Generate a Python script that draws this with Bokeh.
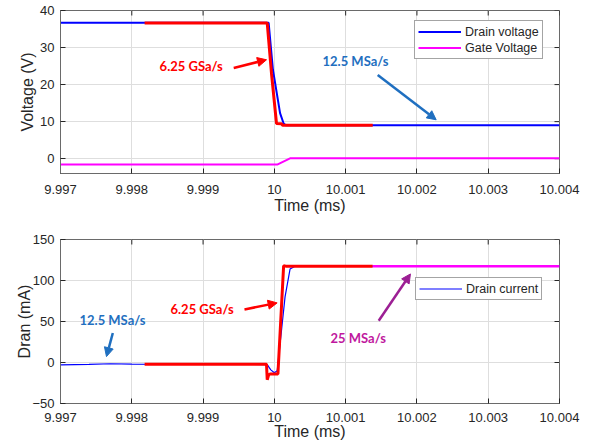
from bokeh.plotting import figure
from bokeh.layouts import column
from bokeh.models import (Range1d, FixedTicker, CustomJSTickFormatter,
                          Legend, LegendItem, Label, Arrow, NormalHead)
from bokeh.embed import file_html
from bokeh.resources import INLINE

# ---------------- data ----------------
x_ticks = [9.997, 9.998, 9.999, 10.0, 10.001, 10.002, 10.003, 10.004]
v_ticks = [0, 10, 20, 30, 40]
i_ticks = [-50, 0, 50, 100, 150]

# Top panel: drain voltage, 12.5 MSa/s record (blue)
vd_slow_t = [9.997, 9.99992, 9.99998, 10.00008, 10.00013, 10.00016, 10.004]
vd_slow_v = [36.7, 36.7, 24.0, 12.3, 9.5, 9.0, 9.0]
# drain voltage, 6.25 GSa/s record (red)
vd_fast_t = [9.99818, 9.99990, 9.99996, 10.00003, 10.00010, 10.00012, 10.00138]
vd_fast_v = [36.6, 36.6, 23.0, 9.5, 9.4, 9.0, 9.0]
# gate voltage (magenta)
vg_t = [9.997, 10.00004, 10.00022, 10.004]
vg_v = [-1.6, -1.6, 0.1, 0.1]

# Bottom panel: drain current, 12.5 MSa/s record (blue)
id_slow_t = [9.997, 9.9974, 9.9977, 9.9980, 9.9990, 9.99990, 9.99995, 10.00000,
             10.00004, 10.00015, 10.00022, 10.00029, 10.004]
id_slow_i = [-2.8, -2.2, -1.5, -2.0, -2.2, -2.5, -9.0, -12.5,
             -10.0, 80.0, 114.0, 117.5, 117.5]
# drain current, 6.25 GSa/s record (red)
id_fast_t = [9.99818, 9.99989, 9.99990, 9.99992, 9.99994, 10.00005, 10.00013, 10.00016, 10.00138]
id_fast_i = [-2.0, -2.0, -21.0, -15.0, -14.0, -14.0, 118.0, 117.5, 117.5]
# drain current, 25 MSa/s record (magenta)
id_mid_t = [10.00138, 10.004]
id_mid_i = [117.5, 117.5]

FONT = "Liberation Sans"
ANN_FONT = "Lato"
TXT = "#262626"
BOX = "#6a6a6a"
GRID = "#dedede"
BLUE = "#0000ff"
RED = "#ff0000"
MAG = "#ff00ff"
ANN_BLUE = "#1f6fc0"
ANN_MAG = "#c0189e"
ARR_MAG = "#9c1f94"

X0, X1 = 9.997, 10.004
FRAME_W = 499
TICK_PX = 5


def style(p, yticks, ylabel, y0, y1, frame_h, xl_stand, xal_stand, yal_stand):
    p.xaxis.ticker = FixedTicker(ticks=x_ticks)
    p.xaxis.formatter = CustomJSTickFormatter(code="return String(Math.round(tick*1000)/1000);")
    p.yaxis.ticker = FixedTicker(ticks=yticks)
    p.xgrid.ticker = FixedTicker(ticks=x_ticks)
    p.ygrid.ticker = FixedTicker(ticks=yticks)
    for g in (p.xgrid, p.ygrid):
        g.grid_line_color = GRID
        g.grid_line_width = 1
    p.xaxis.axis_label = "Time (ms)"
    p.yaxis.axis_label = ylabel
    for ax in (p.xaxis, p.yaxis):
        ax.axis_label_text_font = FONT
        ax.axis_label_text_font_style = "normal"
        ax.axis_label_text_font_size = "16px"
        ax.axis_label_text_color = TXT
        ax.major_label_text_font = FONT
        ax.major_label_text_font_size = "13px"
        ax.major_label_text_color = TXT
        ax.major_tick_in = TICK_PX
        ax.major_tick_out = 0
        ax.minor_tick_in = 0
        ax.minor_tick_out = 0
        ax.major_tick_line_color = TXT
        ax.axis_line_color = BOX
    p.xaxis.major_label_standoff = xl_stand
    p.xaxis.axis_label_standoff = xal_stand
    p.yaxis.major_label_standoff = 6
    p.yaxis.axis_label_standoff = yal_stand
    # inward tick marks on the right and top edges (boxed axes)
    dx = TICK_PX * (X1 - X0) / FRAME_W
    dy = TICK_PX * (y1 - y0) / frame_h
    p.segment(x0=[X1] * len(yticks), y0=yticks, x1=[X1 - dx] * len(yticks), y1=yticks,
              line_color=TXT, line_width=1)
    p.segment(x0=x_ticks, y0=[y1] * len(x_ticks), x1=x_ticks, y1=[y1 - dy] * len(x_ticks),
              line_color=TXT, line_width=1)
    p.outline_line_color = BOX
    p.background_fill_color = "white"
    p.border_fill_color = "white"


def add_arrow(p, x0, y0, x1, y1, color):
    p.add_layout(Arrow(end=NormalHead(size=9, fill_color=color, line_color=color),
                       x_start=x0, y_start=y0, x_end=x1, y_end=y1,
                       line_color=color, line_width=2.5))


def add_label(p, x, y, text, color):
    p.add_layout(Label(x=x, y=y, text=text, text_font=ANN_FONT, text_font_style="bold",
                       text_font_size="13px", text_color=color,
                       text_align="left", text_baseline="middle"))


def make_legend(p, items, loc):
    lg = Legend(items=items, location=loc, orientation="vertical",
                label_text_font=FONT, label_text_font_size="12.5px", label_text_color=TXT,
                glyph_width=43, glyph_height=15, label_height=15, label_standoff=4,
                spacing=1, padding=3, margin=0,
                border_line_color="#4a4a4a", border_line_width=1,
                background_fill_color="white", background_fill_alpha=1.0)
    p.add_layout(lg, "center")


# ---------------- top panel ----------------
H1_FRAME = 163
p1 = figure(width=583, height=218, output_backend="svg", toolbar_location=None,
            x_range=Range1d(X0, X1), y_range=Range1d(-4, 40),
            min_border_left=60, min_border_right=24, min_border_top=10, min_border_bottom=45)
style(p1, v_ticks, "Voltage (V)", -4, 40, H1_FRAME, 11, 0, 1)
r_vd = p1.line(vd_slow_t, vd_slow_v, line_color=BLUE, line_width=2)
p1.line(vd_fast_t, vd_fast_v, line_color=RED, line_width=3)
r_vg = p1.line(vg_t, vg_v, line_color=MAG, line_width=2)
make_legend(p1, [LegendItem(label="Drain voltage", renderers=[r_vd]),
                 LegendItem(label="Gate Voltage", renderers=[r_vg])], (354, 114))
add_label(p1, 9.99839, 24.9, "6.25 GSa/s", RED)
add_arrow(p1, 9.99943, 24.5, 9.99989, 26.7, RED)
add_label(p1, 10.000675, 26.4, "12.5 MSa/s", ANN_BLUE)
add_arrow(p1, 10.00145, 22.6, 10.00227, 10.5, ANN_BLUE)

# ---------------- bottom panel ----------------
H2_FRAME = 164
p2 = figure(width=583, height=229, output_backend="svg", toolbar_location=None,
            x_range=Range1d(X0, X1), y_range=Range1d(-50, 150),
            min_border_left=60, min_border_right=24, min_border_top=21, min_border_bottom=44)
style(p2, i_ticks, "Dran (mA)", -50, 150, H2_FRAME, 9, -2, -4)
r_id = p2.line(id_slow_t, id_slow_i, line_color=BLUE, line_width=1.2)
p2.line(id_fast_t, id_fast_i, line_color=RED, line_width=3)
p2.line(id_mid_t, id_mid_i, line_color=MAG, line_width=2.5)
make_legend(p2, [LegendItem(label="Drain current", renderers=[r_id])], (355, 103))
add_label(p2, 9.997266, 51.9, "12.5 MSa/s", ANN_BLUE)
add_arrow(p2, 9.997734, 36.0, 9.997645, 7.2, ANN_BLUE)
add_label(p2, 9.998543, 64.7, "6.25 GSa/s", RED)
add_arrow(p2, 9.999581, 64.7, 10.000039, 72.7, RED)
add_label(p2, 10.000787, 30.0, "25 MSa/s", ANN_MAG)
add_arrow(p2, 10.001464, 51.0, 10.001909, 108.0, ARR_MAG)

layout = column(p1, p2, spacing=0)
open("out.html", "w").write(file_html(layout, INLINE))
